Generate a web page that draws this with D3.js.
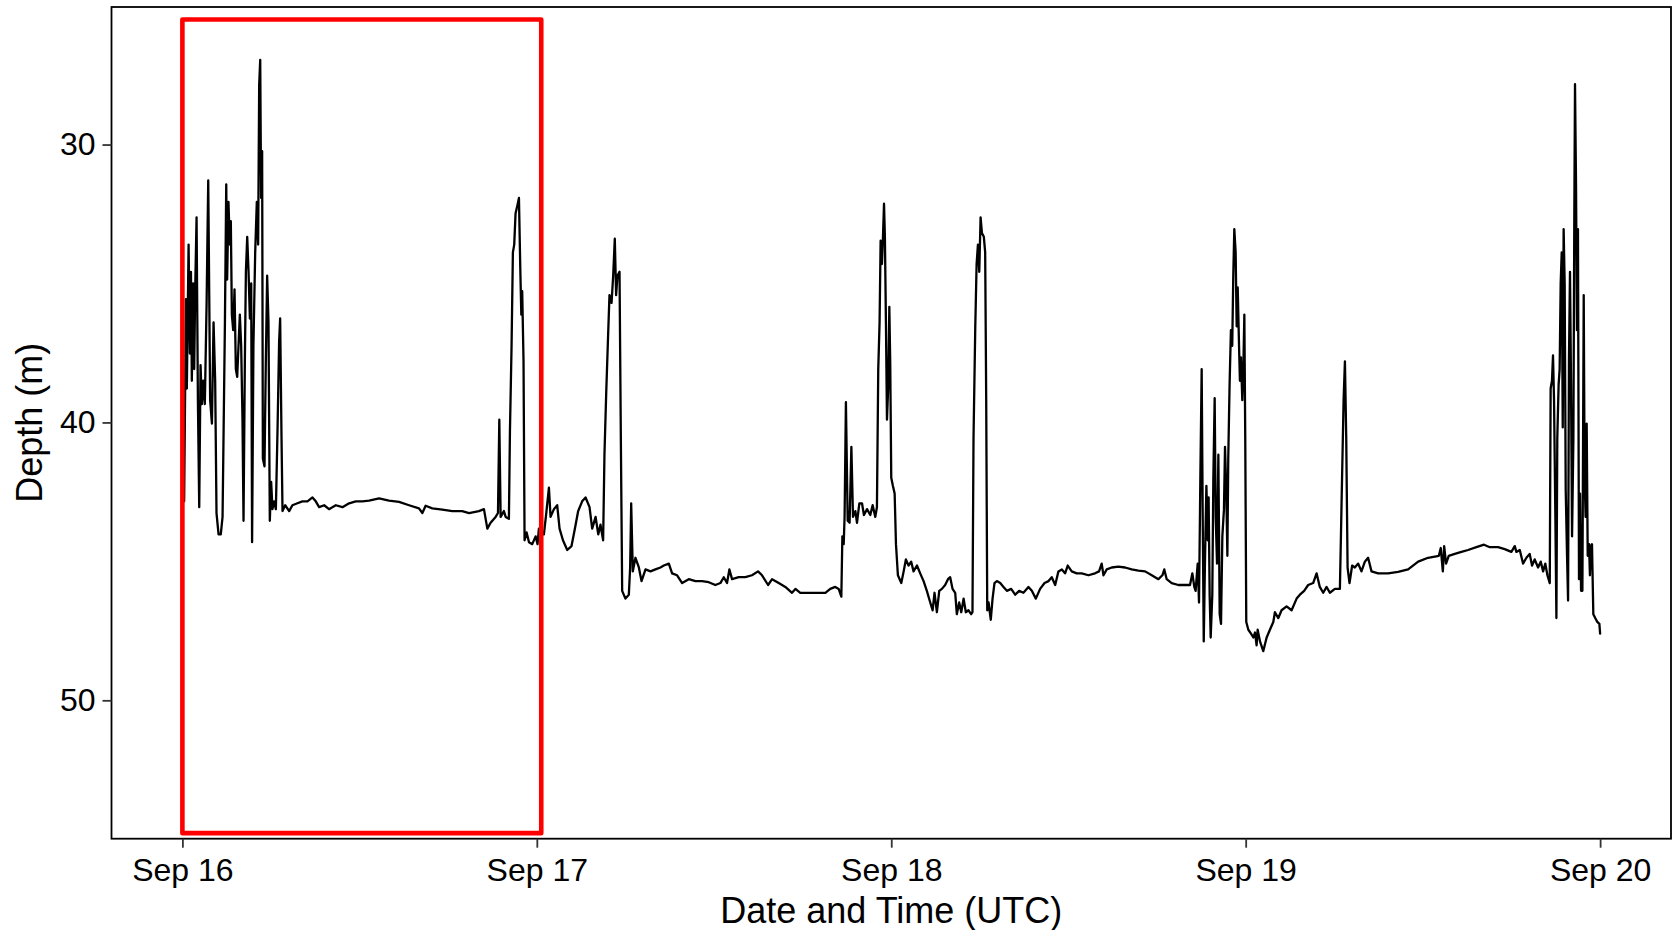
<!DOCTYPE html>
<html><head><meta charset="utf-8">
<script src="https://cdn.jsdelivr.net/npm/d3@7"></script>
<style>
body{margin:0;background:#fff}
svg text{font-family:"Liberation Sans",Arial,Helvetica,sans-serif;fill:#000}
</style>
</head><body>
<svg id="chart" width="1675" height="930"></svg>
<script>
// ---------- data ----------
const startTime = "2021-09-16T00:00:00Z";   // time origin (UTC)
// hours since Sep 16 00:00 UTC
const hours = [
0.12,0.24,0.30,0.42,0.51,0.58,0.64,0.73,0.80,0.87,0.96,1.05,1.14,1.23,1.32,1.41,1.52,1.64,1.75,1.88,
2.00,2.11,2.22,2.31,2.45,2.60,2.72,2.88,2.97,3.03,3.12,3.21,3.28,3.35,3.44,3.53,3.62,3.71,3.80,3.89,
3.98,4.07,4.14,4.23,4.30,4.39,4.48,4.57,4.66,4.72,4.81,4.93,5.04,5.13,5.20,5.27,5.33,5.40,5.45,5.56,
5.65,5.74,5.83,5.92,6.01,6.10,6.21,6.33,6.44,6.55,6.62,6.71,6.78,6.96,7.23,7.45,7.79,8.13,8.47,8.81,
9.03,9.26,9.60,9.93,10.39,10.84,11.29,11.74,12.19,12.64,13.32,13.99,14.67,15.35,16.02,16.25,16.47,16.92,17.60,18.28,
18.95,19.41,20.08,20.42,20.65,20.87,21.21,21.37,21.46,21.55,21.77,21.89,22.11,22.18,22.29,22.38,22.47,22.56,22.68,22.79,
22.88,22.95,23.01,23.10,23.17,23.31,23.47,23.69,23.92,24.05,24.14,24.48,24.64,24.82,24.93,25.16,25.38,25.54,25.77,26.06,
26.35,26.58,26.80,27.07,27.30,27.57,27.75,27.98,28.16,28.31,28.49,28.58,28.70,28.83,28.92,29.06,29.17,29.28,29.37,29.46,
29.60,29.69,29.78,30.00,30.23,30.32,30.39,30.50,30.68,30.91,31.09,31.36,31.70,32.03,32.37,32.60,32.94,33.16,33.50,33.84,
34.29,34.74,35.19,35.64,36.09,36.43,36.66,36.88,37.04,37.22,37.67,38.12,38.57,38.98,39.25,39.66,39.93,40.38,40.83,41.28,
41.51,41.84,42.63,43.54,43.87,44.21,44.44,44.62,44.69,44.78,44.84,44.93,45.05,45.18,45.30,45.41,45.57,45.68,45.84,46.02,
46.15,46.36,46.58,46.74,46.92,47.03,47.12,47.21,47.28,47.37,47.44,47.51,47.57,47.64,47.71,47.80,47.87,47.93,48.00,48.11,
48.23,48.32,48.45,48.68,48.84,48.99,49.17,49.35,49.51,49.74,49.96,50.19,50.41,50.64,50.80,50.93,51.09,51.25,51.43,51.65,
51.84,51.99,52.15,52.33,52.44,52.60,52.74,52.90,53.05,53.23,53.41,53.50,53.57,53.69,53.78,53.87,53.96,54.05,54.14,54.27,
54.36,54.43,54.50,54.59,54.74,54.86,54.99,55.15,55.38,55.60,55.83,56.12,56.39,56.66,56.95,57.29,57.52,57.79,58.08,58.38,
58.65,58.87,59.10,59.32,59.55,59.77,59.95,60.22,60.56,60.90,61.35,61.80,62.07,62.25,62.37,62.59,62.93,63.38,63.83,64.28,
64.74,65.19,65.64,66.09,66.36,66.49,66.65,66.99,67.44,67.89,68.23,68.39,68.52,68.61,68.75,68.84,68.93,69.02,69.09,69.16,
69.25,69.34,69.43,69.49,69.56,69.63,69.74,69.81,69.90,69.97,70.06,70.15,70.24,70.33,70.42,70.53,70.60,70.69,70.76,70.82,
70.91,71.00,71.09,71.16,71.23,71.32,71.39,71.46,71.55,71.61,71.68,71.77,71.84,71.91,71.97,72.04,72.18,72.36,72.52,72.63,
72.74,72.81,72.97,73.19,73.42,73.64,73.87,73.98,74.21,74.43,74.77,75.11,75.45,75.67,75.96,76.23,76.57,76.80,77.02,77.25,
77.48,77.70,78.04,78.38,78.49,78.63,78.72,78.81,78.90,79.03,79.21,79.39,79.62,79.84,80.07,80.29,80.52,80.97,81.65,82.32,
83.00,83.68,84.35,85.08,85.21,85.35,85.44,85.57,85.75,86.16,86.61,87.06,87.62,88.14,88.53,89.09,89.54,89.99,90.22,90.33,
90.56,90.78,91.01,91.23,91.39,91.57,91.80,91.98,92.14,92.29,92.43,92.59,92.65,92.74,92.81,92.88,92.97,93.04,93.10,93.19,
93.26,93.33,93.40,93.47,93.53,93.60,93.67,93.76,93.83,93.89,93.96,94.03,94.10,94.19,94.25,94.30,94.37,94.43,94.50,94.57,
94.64,94.71,94.80,94.89,94.95,95.02,95.09,95.16,95.25,95.31,95.38,95.45,95.54,95.67,95.81,95.95,96.00
];
// depth (m)
const depth = [
42.84,35.56,38.78,33.60,37.52,34.58,38.50,35.00,38.08,35.14,32.62,39.20,43.05,37.94,39.34,38.50,39.34,35.70,31.29,39.20,
40.04,36.40,38.50,43.26,44.03,44.03,43.40,36.40,31.43,34.86,32.06,33.60,32.76,36.12,36.68,35.21,38.08,38.36,37.24,36.12,
37.24,39.90,43.54,37.80,34.58,33.32,34.58,36.26,35.00,44.31,37.24,33.88,32.06,33.60,27.86,26.95,31.92,30.24,41.30,41.58,
37.80,34.72,36.40,43.54,42.14,43.12,42.84,43.12,40.32,37.10,36.26,40.46,43.19,42.98,43.19,42.98,42.91,42.84,42.84,42.70,
42.84,43.05,42.98,43.12,42.98,43.05,42.91,42.84,42.84,42.81,42.73,42.81,42.86,42.98,43.09,43.26,43.00,43.09,43.14,43.19,
43.19,43.26,43.19,43.12,43.82,43.61,43.40,43.26,39.90,43.40,43.19,43.40,43.47,40.32,37.24,33.88,33.60,32.48,32.20,31.92,
34.44,36.12,35.28,37.80,44.24,43.96,44.31,44.38,44.10,44.38,43.82,44.03,43.26,42.35,43.40,43.12,42.98,43.82,44.24,44.59,
44.45,43.82,43.19,42.84,42.70,43.05,43.82,43.40,44.03,43.68,44.24,41.16,38.92,36.82,35.42,35.70,34.72,33.39,35.42,34.72,
34.58,40.60,46.06,46.34,46.20,45.22,42.91,45.36,44.87,45.22,45.71,45.29,45.36,45.29,45.22,45.15,45.08,45.43,45.50,45.78,
45.64,45.71,45.71,45.75,45.85,45.78,45.57,45.78,45.29,45.64,45.57,45.57,45.50,45.36,45.50,45.85,45.64,45.78,45.92,46.13,
45.99,46.13,46.13,46.13,45.99,45.92,45.99,46.27,44.10,44.38,43.40,39.27,43.54,43.61,40.88,43.40,43.19,43.61,42.91,42.91,
43.33,43.12,43.33,42.98,43.40,43.05,38.08,36.40,33.46,34.30,33.32,32.13,33.32,36.40,39.90,38.64,35.84,37.80,41.99,42.28,
42.56,44.38,45.50,45.78,45.36,44.93,45.15,45.01,45.36,45.15,45.43,45.71,46.06,46.48,46.76,46.13,46.83,46.06,45.99,45.85,
45.64,45.57,45.99,46.13,46.90,46.48,46.83,46.34,46.83,46.76,46.90,46.83,40.60,36.54,34.30,33.60,34.58,32.62,33.18,33.32,
33.88,39.20,46.76,46.48,47.10,46.34,45.78,45.71,45.78,45.92,46.06,45.99,46.20,46.06,46.13,45.92,46.06,46.34,45.99,45.78,
45.71,45.57,45.85,45.36,45.29,45.43,45.15,45.36,45.43,45.43,45.50,45.43,45.36,45.08,45.50,45.29,45.22,45.19,45.22,45.29,
45.33,45.36,45.50,45.64,45.50,45.29,45.64,45.78,45.85,45.85,45.85,45.43,45.92,46.06,45.08,46.48,41.99,38.08,43.40,47.88,
44.80,42.28,44.24,42.70,46.20,47.74,46.20,41.99,39.13,43.40,45.08,41.16,46.90,47.25,44.10,43.12,40.88,42.56,44.80,41.30,
38.64,36.68,37.24,34.72,33.04,33.88,36.54,35.14,37.24,38.50,37.66,39.20,38.08,36.12,40.46,47.18,47.46,47.60,47.74,47.56,
48.02,47.46,47.88,48.23,47.74,47.46,47.18,46.83,47.04,46.76,46.62,46.76,46.34,46.20,46.06,45.85,45.78,45.43,45.92,46.13,
45.92,46.13,45.99,45.99,42.98,39.20,37.80,40.60,45.22,45.78,45.15,45.22,45.08,45.36,45.01,44.87,45.36,45.43,45.43,45.38,
45.29,45.01,44.87,44.80,44.52,45.36,44.45,45.08,44.80,44.73,44.66,44.59,44.49,44.40,44.49,44.49,44.56,44.66,44.45,44.66,
44.59,45.08,44.87,44.73,45.15,44.93,45.22,45.01,45.36,45.08,45.50,45.78,38.78,38.50,37.59,39.20,43.40,47.04,40.60,38.64,
38.08,34.99,33.88,40.18,33.04,35.00,42.42,44.80,46.41,37.80,34.58,38.64,44.10,40.60,32.90,27.83,31.50,36.68,33.04,45.64,
42.56,46.06,46.06,35.42,41.99,43.40,40.04,44.80,44.38,45.50,44.45,44.38,46.90,47.04,47.18,47.25,47.60
];
const xTickLabels = ["Sep 16","Sep 17","Sep 18","Sep 19","Sep 20"];
const xTickDates  = ["2021-09-16","2021-09-17","2021-09-18","2021-09-19","2021-09-20"];
const yTicks = [30, 40, 50];
const yLimits = [25.05, 54.98];            // visible depth range (top, bottom)
const xLimits = ["2021-09-16T00:00:00Z","2021-09-20T00:00:00Z"];
const highlightX = ["2021-09-16T00:00:00Z","2021-09-17T00:18:00Z"];
const highlightY = [25.50, 54.78];

// ---------- layout ----------
const W = 1675, H = 930;
const panel = {left:111.5, right:1671, top:7, bottom:838.7};

const t0 = new Date(startTime).getTime();
const data = hours.map((h,i)=>({t:new Date(t0 + h*3600e3), v:depth[i]}));

const xl0 = new Date(xLimits[0]), xl1 = new Date(xLimits[1]);
const pad = (xl1 - xl0)*0.05;
const x = d3.scaleUtc()
  .domain([new Date(+xl0 - pad), new Date(+xl1 + pad)])
  .range([panel.left, panel.right]);
const y = d3.scaleLinear().domain(yLimits).range([panel.top, panel.bottom]);

const svg = d3.select("#chart");
svg.append("rect").attr("width",W).attr("height",H).attr("fill","#fff");

// line
svg.append("path").datum(data)
  .attr("fill","none").attr("stroke","#000").attr("stroke-width",2.3)
  .attr("stroke-linejoin","round").attr("stroke-linecap","round")
  .attr("d", d3.line().x(d=>x(d.t)).y(d=>y(d.v)));

// panel border
svg.append("rect")
  .attr("x",panel.left).attr("y",panel.top)
  .attr("width",panel.right-panel.left).attr("height",panel.bottom-panel.top)
  .attr("fill","none").attr("stroke","#000").attr("stroke-width",1.8);

// axes
const tickDates = xTickDates.map(s=>new Date(s+"T00:00:00Z"));
const xAxis = d3.axisBottom(x).tickValues(tickDates)
  .tickFormat((d,i)=>xTickLabels[i]).tickSize(9).tickPadding(11);
const gx = svg.append("g").attr("transform",`translate(0,${panel.bottom})`).call(xAxis);
gx.select(".domain").remove();
gx.selectAll(".tick line").attr("stroke","#333").attr("stroke-width",1.8);
gx.selectAll(".tick text").attr("font-size",32).attr("fill","#000")
  .style("font-family",'"Liberation Sans",Arial,Helvetica,sans-serif');

const yAxis = d3.axisLeft(y).tickValues(yTicks).tickSize(9).tickPadding(7);
const gy = svg.append("g").attr("transform",`translate(${panel.left},0)`).call(yAxis);
gy.select(".domain").remove();
gy.selectAll(".tick line").attr("stroke","#333").attr("stroke-width",1.8);
gy.selectAll(".tick text").attr("font-size",32).attr("fill","#000")
  .style("font-family",'"Liberation Sans",Arial,Helvetica,sans-serif');

// axis titles
svg.append("text").attr("x",(panel.left+panel.right)/2).attr("y",923)
  .attr("text-anchor","middle").attr("font-size",36).text("Date and Time (UTC)");
svg.append("text").attr("transform",`translate(42,${(panel.top+panel.bottom)/2}) rotate(-90)`)
  .attr("text-anchor","middle").attr("font-size",36).text("Depth (m)");

// highlight box
svg.append("rect")
  .attr("x",x(new Date(highlightX[0]))).attr("y",y(highlightY[0]))
  .attr("width",x(new Date(highlightX[1]))-x(new Date(highlightX[0])))
  .attr("height",y(highlightY[1])-y(highlightY[0]))
  .attr("fill","none").attr("stroke","#ff0000").attr("stroke-width",4.6)
  .attr("stroke-linejoin","round");
</script>
</body></html>
